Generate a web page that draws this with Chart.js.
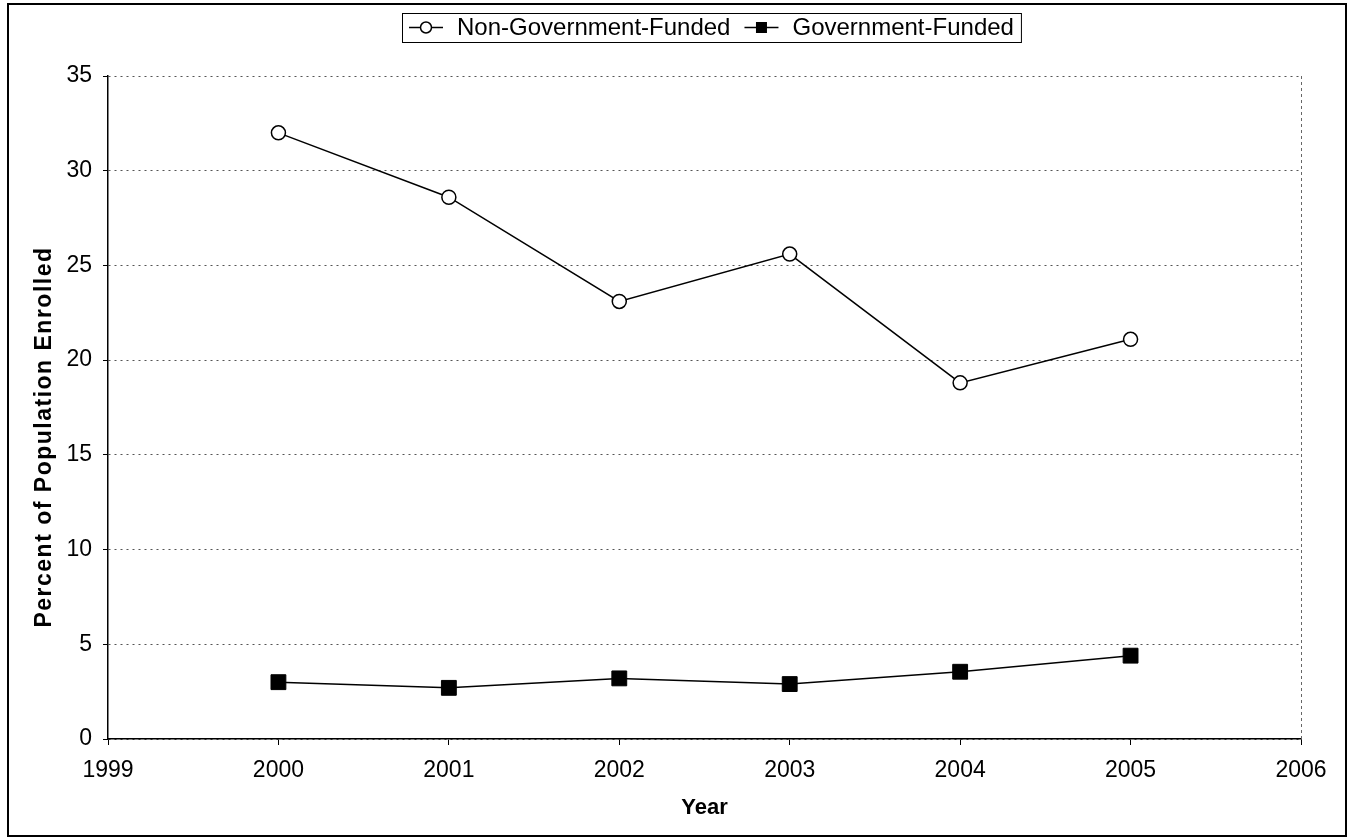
<!DOCTYPE html>
<html>
<head>
<meta charset="utf-8">
<script src="https://cdn.jsdelivr.net/npm/chart.js@4/dist/chart.umd.min.js"></script>
<style>
  html, body { margin: 0; padding: 0; background: #fff; }
  #wrap { width: 1349px; height: 839px; position: relative; }
</style>
</head>
<body>
<div id="wrap"><canvas id="enrollChart"></canvas></div>
<script>
// data
const years = [2000, 2001, 2002, 2003, 2004, 2005];
const nonGovFunded = [32.0, 28.6, 23.1, 25.6, 18.8, 21.1];
const govFunded = [3.0, 2.7, 3.2, 2.9, 3.55, 4.4];
const seriesNames = ['Non-Government-Funded', 'Government-Funded'];
const yTitle = 'Percent of Population Enrolled';
const xTitle = 'Year';
const yearMin = 1999, yearMax = 2006;
const yMax = 35, yStep = 5;

const FONT = "'Liberation Sans', Arial, sans-serif";

// Excel-ish legend (line through marker), y title, frame lines
const framePlugin = {
    id: 'frame',
    afterDraw(chart) {
        const ctx = chart.ctx;
        const area = chart.chartArea;
        ctx.save();

        // right edge of plot area
        ctx.strokeStyle = '#666';
        ctx.lineWidth = 1;
        ctx.setLineDash([3, 3]);
        ctx.beginPath();
        ctx.moveTo(area.right + 0.5, area.top);
        ctx.lineTo(area.right + 0.5, area.bottom);
        ctx.stroke();
        ctx.setLineDash([]);

        // outer chart border
        ctx.strokeStyle = '#000';
        ctx.lineWidth = 2;
        ctx.strokeRect(8, 4, 1338, 832);

        // y axis title (Excel centres it a bit lower than the plot)
        ctx.save();
        ctx.translate(45, 437);
        ctx.rotate(-Math.PI / 2);
        ctx.font = 'bold 23px ' + FONT;
        ctx.letterSpacing = '1.5px';
        ctx.textAlign = 'center';
        ctx.textBaseline = 'middle';
        ctx.fillStyle = '#000';
        ctx.fillText(yTitle, 0, 0);
        ctx.restore();

        // legend
        ctx.font = '24px ' + FONT;
        ctx.textBaseline = 'middle';
        ctx.textAlign = 'left';
        ctx.fillStyle = '#000';
        const boxLeft = 402, boxTop = 13, boxH = 29;
        const cy = boxTop + boxH / 2;
        let x = boxLeft + 7;
        const items = [];
        chart.data.datasets.forEach((ds) => {
            const lineStart = x;
            const lineEnd = x + 34;
            const textX = lineEnd + 14;
            const w = ctx.measureText(ds.label).width;
            items.push({ ds, lineStart, lineEnd, textX });
            x = textX + w + 14;
        });
        const boxRight = x - 7;
        ctx.lineWidth = 1;
        ctx.strokeRect(boxLeft + 0.5, boxTop + 0.5, boxRight - boxLeft, boxH);
        items.forEach(it => {
            ctx.strokeStyle = '#000';
            ctx.lineWidth = 1.5;
            ctx.beginPath();
            ctx.moveTo(it.lineStart, cy);
            ctx.lineTo(it.lineEnd, cy);
            ctx.stroke();
            const mx = (it.lineStart + it.lineEnd) / 2;
            if (it.ds.pointStyle === 'circle') {
                ctx.beginPath();
                ctx.arc(mx, cy, 5.5, 0, Math.PI * 2);
                ctx.fillStyle = '#fff';
                ctx.fill();
                ctx.stroke();
            } else {
                ctx.fillStyle = '#000';
                ctx.fillRect(mx - 5.5, cy - 5.5, 11, 11);
            }
            ctx.fillStyle = '#000';
            ctx.fillText(it.ds.label, it.textX, cy + 1);
        });
        ctx.restore();
    }
};

const enrollChart = new Chart(
    document.getElementById('enrollChart'),
    {
        type: 'line',
        data: {
            datasets: [{
                label: seriesNames[0],
                data: years.map((yr, i) => ({ x: yr, y: nonGovFunded[i] })),
                borderColor: '#000',
                borderWidth: 1.5,
                pointStyle: 'circle',
                pointRadius: 7,
                pointBackgroundColor: '#fff',
                pointBorderColor: '#000',
                pointBorderWidth: 1.5,
                tension: 0,
            }, {
                label: seriesNames[1],
                data: years.map((yr, i) => ({ x: yr, y: govFunded[i] })),
                borderColor: '#000',
                borderWidth: 1.5,
                pointStyle: 'rect',
                pointRadius: 10.5,
                pointBackgroundColor: '#000',
                pointBorderColor: '#000',
                pointBorderWidth: 1,
                tension: 0,
            }]
        },
        options: {
            responsive: true,
            maintainAspectRatio: false,
            animation: false,
            layout: { padding: { left: 0, right: 48, top: 76, bottom: 0 } },
            plugins: {
                legend: { display: false },
                tooltip: { enabled: false },
            },
            scales: {
                x: {
                    type: 'linear',
                    min: yearMin,
                    max: yearMax,
                    afterFit: (scale) => { scale.height = 100; },
                    ticks: {
                        stepSize: 1,
                        color: '#000',
                        font: { family: FONT, size: 23 },
                        padding: 12,
                        callback: (v) => String(v),
                    },
                    grid: {
                        drawOnChartArea: false,
                        tickLength: 6,
                        tickColor: '#000',
                    },
                    border: { display: true, color: '#000', width: 1.5 },
                    title: {
                        display: true,
                        text: xTitle,
                        color: '#000',
                        font: { family: FONT, size: 22, weight: 'bold' },
                        padding: { top: 0, bottom: 18 },
                    },
                },
                y: {
                    min: 0,
                    max: yMax,
                    afterFit: (scale) => { scale.width = 108; },
                    ticks: {
                        stepSize: yStep,
                        color: '#000',
                        font: { family: FONT, size: 23 },
                        padding: 11,
                    },
                    grid: {
                        color: '#555',
                        lineWidth: 1,
                        tickLength: 5,
                        tickColor: '#000',
                        tickBorderDash: [],
                    },
                    border: { display: true, color: '#000', width: 1.5, dash: [2, 4] },
                    title: { display: false },
                }
            }
        },
        plugins: [framePlugin]
    }
);
</script>
</body>
</html>
